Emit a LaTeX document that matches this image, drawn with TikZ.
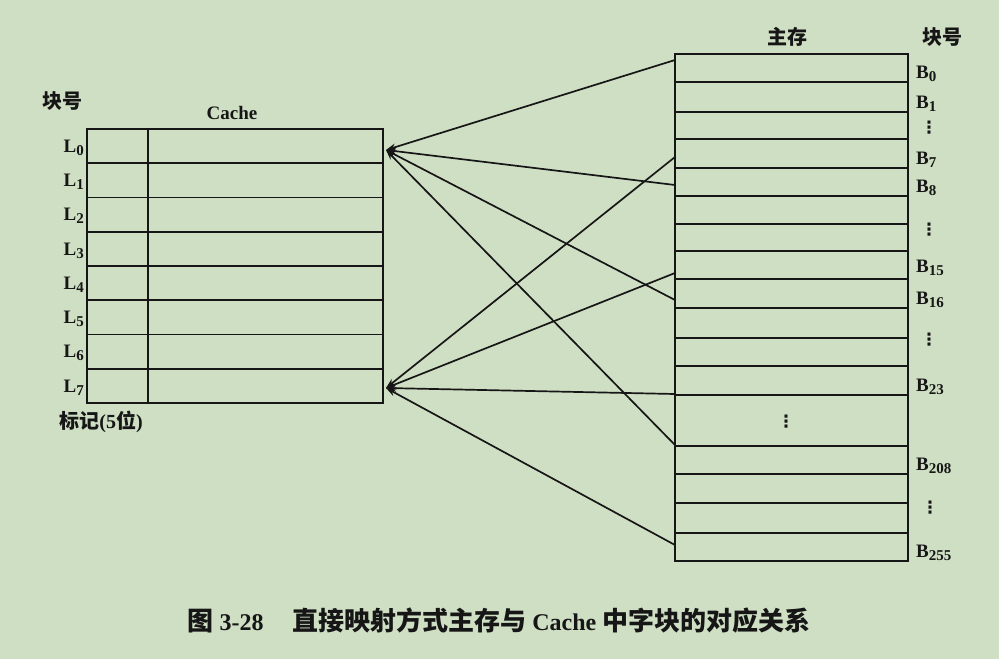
\documentclass[tikz,border=0pt]{standalone}
\usepackage{fontspec}
\setmainfont{Liberation Serif}
\newfontfamily\cjk{Noto Sans CJK SC}
\newfontfamily\sym{DejaVu Sans}
\usepackage{tikz}
\usetikzlibrary{arrows.meta}
\definecolor{bgc}{RGB}{207,223,196}
\definecolor{ink}{RGB}{22,22,22}
\newcommand\xb[1]{\raisebox{-0.35ex}{\fontsize{15}{15}\selectfont #1}}
\tikzset{
  lbl/.style={font=\fontsize{19}{19}\selectfont\bfseries, inner sep=0pt, text=ink},
  hz/.style={font=\cjk\fontsize{20}{20}\selectfont\bfseries, inner sep=0pt, text=ink},
  vd/.style={font=\sym\fontsize{17}{17}\selectfont\bfseries, inner sep=0pt, text=ink},
  box/.style={line width=1.8pt, draw=ink},
  map/.style={line width=1.7pt, draw=ink, -{Stealth[length=10pt,width=7pt]}},
}
\begin{document}
\begin{tikzpicture}[x=1pt,y=-1pt] % 按像素坐标作图
  \fill[bgc] (0,0) rectangle (999,659);
  \useasboundingbox (0,0) rectangle (999,659);
  % Cache
  \draw[box] (87,129) rectangle (383,403);
  \draw[box] (148,129) -- (148,403);
  \foreach \i in {1,...,7}
    \draw[box] (87,{129+34.25*\i}) -- (383,{129+34.25*\i});
  \foreach \i in {0,...,7}
    \node[lbl, anchor=base east] (L\i) at (84,{129+34.25*(\i+1)-11}) {L\xb{\i}};
  \node[hz] (kh1) at (62,101) {块号};
  \node[lbl] (cache) at (232,113) {Cache};
  \node[hz, font=\fontsize{20}{20}\selectfont\bfseries] (tag) at (101,422) {{\cjk 标记}(5{\cjk 位})};
  % 主存
  \draw[box] (675,54) rectangle (908,561);
  \foreach \y in {82,112,139,168,196,224,251,279,308,338,366,395,446,474,503,533}
    \draw[box] (675,\y) -- (908,\y);
  \node[hz] (zc) at (787,37) {主存};
  \node[hz] (kh2) at (942,37) {块号};
  \foreach \n/\y in {0/78,1/108,7/164,8/192,15/272,16/304,23/391,208/470,255/557}
    \node[lbl, anchor=base west] (B\n) at (916,\y) {B\xb{\n}};
  \node[vd] (d1) at (929,128) {⋮};
  \node[vd] (d2) at (929,230) {⋮};
  \node[vd] (d3) at (929,340) {⋮};
  \node[vd] (d4) at (786,422) {⋮};
  \node[vd] (d5) at (930,508) {⋮};
  % 映射关系
  \coordinate (c0) at (386,150);
  \coordinate (c7) at (386,388);
  \foreach \n/\y in {0/60,7/157,8/185,15/273,16/300,23/394,208/445,255/545}
    \coordinate (m\n) at (675,\y);
  \foreach \n in {0,8,16,208}
    \draw[map] (m\n) -- (c0);
  \foreach \n in {7,15,23,255}
    \draw[map] (m\n) -- (c7);
  % 图题
  \node[lbl, font=\fontsize{24}{24}\selectfont\bfseries] (cap) at (499,621)
    {{\cjk\fontsize{26}{26}\selectfont 图} 3-28\hspace{1.2em}{\cjk\fontsize{26}{26}\selectfont 直接映射方式主存与} Cache {\cjk\fontsize{26}{26}\selectfont 中字块的对应关系}};
\end{tikzpicture}
\end{document}
